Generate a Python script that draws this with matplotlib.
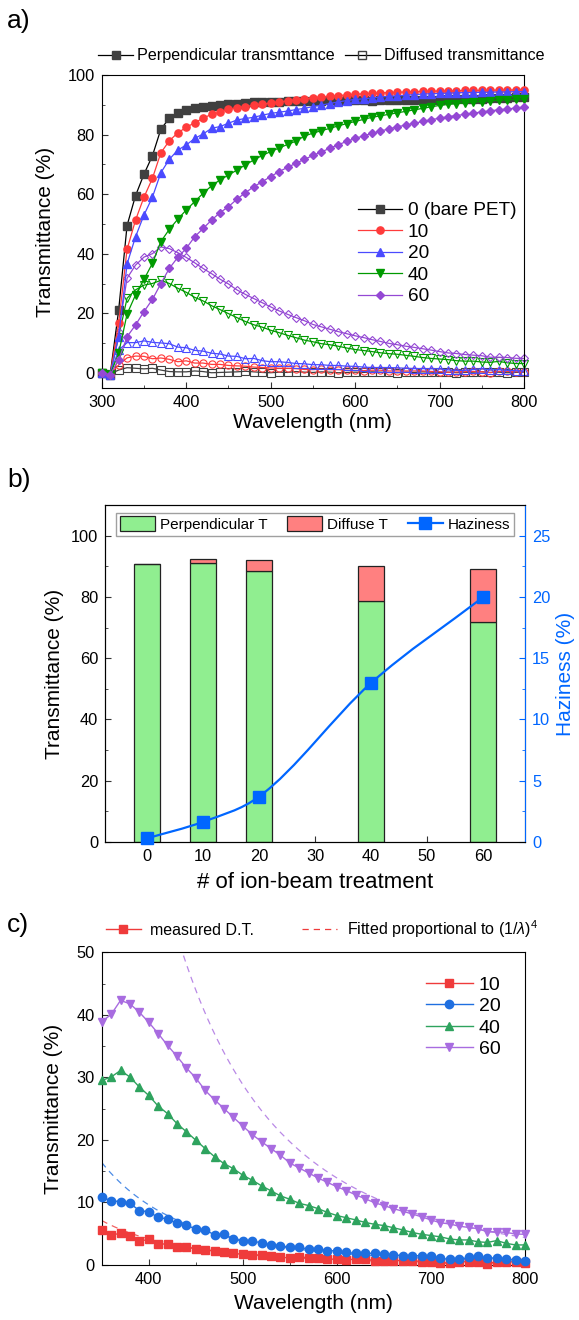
import numpy as np
import matplotlib.pyplot as plt
from matplotlib.path import Path
from matplotlib.patches import PathPatch
from matplotlib.lines import Line2D
from matplotlib.ticker import MultipleLocator

plt.rcParams['font.family'] = ['Liberation Sans', 'DejaVu Sans']
plt.rcParams['mathtext.fontset'] = 'custom'
plt.rcParams['mathtext.rm'] = 'Liberation Sans'
plt.rcParams['mathtext.it'] = 'Liberation Sans:italic'

# ---- data -------------------------------------------------------------
wl = np.arange(300, 801, 10)          # panel a wavelengths
wl_c = np.arange(350, 801, 10)        # panel c wavelengths

# perpendicular transmittance (panel a, filled markers)
perp_0 = [0, -0.5, 21, 49.5, 59.5, 66.7, 72.9, 81.8, 85.5, 87.1, 88.3, 89.0, 89.4, 89.7,
          89.9, 90.3, 90.4, 90.5, 90.8, 90.9, 91.0, 91.1, 91.2, 91.3, 91.4, 91.4, 91.4,
          91.5, 91.4, 91.5, 91.5, 91.5, 91.4, 91.5, 91.5, 91.6, 91.6, 91.6, 91.7, 91.7,
          91.7, 91.8, 91.9, 91.9, 92.0, 92.1, 92.2, 92.3, 92.4, 92.5, 92.6]
perp_10 = [0, -0.5, 16.7, 41.5, 51.3, 59.0, 65.3, 73.9, 77.9, 80.6, 82.4, 84.0, 85.5, 86.8,
           87.5, 88.5, 89.0, 89.4, 89.8, 90.2, 90.6, 91.0, 91.3, 91.7, 92.0, 92.3, 92.6,
           92.9, 93.1, 93.3, 93.5, 93.7, 93.8, 94.0, 94.1, 94.2, 94.3, 94.4, 94.5, 94.6,
           94.6, 94.7, 94.7, 94.8, 94.8, 94.8, 94.9, 94.9, 94.9, 95.0, 95.0]
perp_20 = [0, -0.5, 12, 36.6, 45.7, 53.0, 59.0, 67.2, 71.7, 74.8, 76.5, 78.7, 80.2, 82.1,
           82.7, 83.8, 84.9, 85.4, 85.8, 86.5, 87.1, 87.5, 87.9, 88.4, 88.8, 89.4, 89.9,
           90.4, 91.0, 91.4, 91.8, 92.0, 92.3, 92.6, 92.8, 93.0, 93.2, 93.4, 93.6, 93.7,
           93.8, 93.9, 94.0, 94.1, 94.1, 94.2, 94.2, 94.3, 94.3, 94.4, 94.4]
perp_40 = [0, -0.5, 6.6, 19.8, 26.2, 31.4, 36.8, 44.1, 48.2, 51.6, 54.7, 57.5, 60.3, 62.8,
           64.8, 66.4, 68.1, 69.8, 71.5, 73.0, 74.3, 75.5, 76.7, 77.8, 79.5, 80.5, 81.3,
           82.1, 82.9, 83.7, 84.4, 85.1, 85.8, 86.3, 86.8, 87.3, 87.8, 88.3, 88.8, 89.3,
           89.8, 90.1, 90.4, 90.7, 90.9, 91.1, 91.3, 91.5, 91.7, 91.8, 92.0]
perp_60 = [0, -0.5, 4.4, 12.2, 16.1, 20.6, 24.7, 30.0, 35.1, 38.8, 41.8, 45.7, 48.5, 51.3,
           53.8, 55.8, 58.3, 60.5, 62.5, 64.2, 65.9, 67.6, 69.0, 70.4, 71.7, 73.0, 74.2,
           75.4, 76.6, 77.7, 78.7, 79.6, 80.4, 81.2, 81.9, 82.6, 83.2, 83.8, 84.4, 85.0,
           85.5, 86.0, 86.4, 86.8, 87.2, 87.6, 88.0, 88.3, 88.6, 88.9, 89.2]

# diffuse transmittance 350-800 nm (panel c, also open markers in panel a)
c10 = [5.6, 4.8, 5.05, 4.6, 3.8, 4.1, 3.35, 3.35, 2.9, 2.9, 2.55, 2.4, 2.3, 2.0, 1.85, 1.7,
       1.6, 1.6, 1.5, 1.2, 1.15, 1.3, 1.15, 1.15, 0.95, 0.9, 0.8, 0.95, 0.95, 0.7, 0.7, 0.7,
       0.7, 0.7, 0.55, 0.45, 0.25, 0.35, 0.45, 0.55, 0.45, 0.15, 0.55, 0.55, 0.45, 0.35]
c20 = [10.8, 10.3, 10.1, 9.85, 8.7, 8.5, 7.6, 7.35, 6.65, 6.4, 5.7, 5.6, 4.8, 4.9, 4.15, 3.8,
       3.8, 3.55, 3.2, 3.1, 2.8, 2.8, 2.55, 2.55, 2.3, 2.25, 2.0, 1.85, 1.85, 1.85, 1.75, 1.6,
       1.5, 1.5, 1.45, 1.45, 1.05, 0.9, 0.9, 1.2, 1.45, 1.05, 1.15, 0.9, 0.8, 0.65]
c40 = [29.5, 30.05, 31.1, 30.05, 28.45, 27.1, 25.4, 24.2, 22.6, 21.3, 19.95, 18.6, 17.3, 16.2,
       15.4, 14.35, 13.55, 12.65, 11.85, 11.05, 10.5, 9.85, 9.5, 9.0, 8.4, 7.9, 7.55, 7.2,
       6.8, 6.5, 6.3, 5.95, 5.6, 5.2, 4.9, 4.7, 4.5, 4.15, 4.0, 4.0, 3.7, 3.6, 3.9, 3.45,
       3.2, 3.2]
c60 = [38.9, 40.05, 42.3, 41.75, 40.4, 38.8, 37.0, 35.1, 33.35, 31.5, 29.9, 27.9, 26.4, 25.0,
       23.6, 22.2, 20.85, 19.7, 18.6, 17.55, 16.3, 15.5, 14.7, 13.9, 13.2, 12.5, 11.9, 11.2,
       10.6, 9.95, 9.5, 9.0, 8.6, 8.15, 7.7, 7.2, 6.75, 6.55, 6.2, 6.0, 5.8, 5.3, 5.3, 5.2,
       4.95, 4.9]

# 300-340 nm part of the diffuse curves (panel a only)
head_10 = [0, -0.3, 2.7, 5.1, 5.7]
head_20 = [0, -0.3, 7.7, 10.2, 10.2]
head_40 = [0, -0.3, 12.2, 25.1, 27.9]
head_60 = [0, -0.3, 13.9, 31.8, 36.2]
diff_0 = [0, -0.3, 1.0, 1.8, 1.6, 1.4, 1.6, 1.0, 0.5, 0.4, 0.4, 0.7, 0.5, 0.1, 0.2, 0.3, 0.4,
          0.6, 0.4, 0.2, 0.1, 0.3, 0.2, 0.5, 0.3, 0.2, 0.4, 0.3, 0.1, 0.2, 0.3, 0.2, 0.4,
          0.3, 0.2, 0.1, 0.3, 0.2, 0.4, 0.3, 0.2, 0.3, 0.1, 0.2, 0.3, 0.4, 0.2, 0.3, 0.1,
          0.2, 0.3]

# fitted (1/lambda)^4 curves, value at 800 nm
fit_at_800 = {'10': 0.26, '20': 0.60, '60': 4.4}

# panel b
treat = [0, 10, 20, 40, 60]
perp_T = [90.8, 91.1, 88.6, 78.6, 71.8]
total_T = [90.8, 92.5, 92.1, 90.2, 89.2]
haze = [0.3, 1.65, 3.7, 12.97, 19.97]

labels_a = ['0 (bare PET)', '10', '20', '40', '60']
labels_c = ['10', '20', '40', '60']

# ---- figure -----------------------------------------------------------
TICK = 11.8
LAB = 15

fig = plt.figure(figsize=(5.79, 13.2), dpi=100)
axa = fig.add_axes([0.1757, 0.7061, 0.7294, 0.2371])
axb = fig.add_axes([0.1813, 0.3621, 0.7254, 0.2553])
axc = fig.add_axes([0.1757, 0.0417, 0.7311, 0.2369])

for ax in (axa, axb, axc):
    ax.tick_params(which='both', direction='in', labelsize=TICK, color='#333333', pad=5)
    ax.tick_params(which='major', length=4)
    ax.tick_params(which='minor', length=2.5)

fig.text(0.012, 0.984, 'a)', fontsize=19, va='center')
fig.text(0.012, 0.636, 'b)', fontsize=19, va='center')
fig.text(0.012, 0.299, 'c)', fontsize=19, va='center')

# ---- panel a ----------------------------------------------------------
cols_a = ['#404040', '#ff3b3b', '#4a4aff', '#009a00', '#9448d4']
marks_a = ['s', 'o', '^', 'v', 'D']
perps = [perp_0, perp_10, perp_20, perp_40, perp_60]
diffs = [diff_0, head_10 + c10, head_20 + c20, head_40 + c40, head_60 + c60]

for d, c, m in zip(diffs, cols_a, marks_a):
    ms = 4.5 if m == 'D' else 5.2
    axa.plot(wl, d, color=c, lw=0.9, marker=m, ms=ms, mfc='none', mec=c, mew=0.8,
             clip_on=False, zorder=2)
for p, c, m, lab in zip(perps, cols_a, marks_a, labels_a):
    ms = 4.5 if m == 'D' else 5.2
    line_c = 'black' if c == '#404040' else c
    axa.plot(wl, p, color=line_c, lw=0.9, marker=m, ms=ms, mfc=c, mec=c, label=lab,
             clip_on=False, zorder=3)

axa.set_xlim(300, 800)
axa.set_ylim(-5, 100)
axa.xaxis.set_major_locator(MultipleLocator(100))
axa.xaxis.set_minor_locator(MultipleLocator(50))
axa.yaxis.set_major_locator(MultipleLocator(20))
axa.yaxis.set_minor_locator(MultipleLocator(10))
axa.set_xlabel('Wavelength (nm)', fontsize=LAB, labelpad=2)
axa.set_ylabel('Transmittance (%)', fontsize=LAB, labelpad=9)

top_handles = [Line2D([], [], color='black', lw=0.9, marker='s', ms=5.2, mfc='#404040', mec='#404040'),
               Line2D([], [], color='black', lw=0.9, marker='s', ms=5.2, mfc='none', mec='#404040')]
leg_top = axa.legend(top_handles, ['Perpendicular transmttance', 'Diffused transmittance'],
                     loc='lower center', bbox_to_anchor=(0.52, 1.012), ncol=2, frameon=False,
                     fontsize=11.6, handlelength=2.2, handletextpad=0.25, columnspacing=0.6,
                     borderpad=0)
axa.legend(loc='upper left', bbox_to_anchor=(0.585, 0.625), frameon=False, fontsize=13.7,
           handlelength=2.3, handletextpad=0.3, labelspacing=0.22, borderpad=0)
axa.add_artist(leg_top)

# ---- panel b ----------------------------------------------------------
diffuse_T = [t - p for t, p in zip(total_T, perp_T)]
axb.bar(treat, perp_T, width=4.6, color='#90ee90', edgecolor='#222222', lw=0.9,
        label='Perpendicular T', zorder=2)
axb.bar(treat, diffuse_T, bottom=perp_T, width=4.6, color='#ff8080', edgecolor='#222222',
        lw=0.9, label='Diffuse T', zorder=2)
axb.set_xlim(-7.5, 67.5)
axb.set_ylim(0, 110)
axb.set_xticks(range(0, 61, 10))
axb.yaxis.set_major_locator(MultipleLocator(20))
axb.yaxis.set_minor_locator(MultipleLocator(10))
axb.set_xlabel('# of ion-beam treatment', fontsize=16, labelpad=6)
axb.set_ylabel('Transmittance (%)', fontsize=LAB, labelpad=5)

axb2 = axb.twinx()
hz_col = '#0066ff'
axb2.set_ylim(0, 27.5)
axb2.yaxis.set_major_locator(MultipleLocator(5))
axb2.yaxis.set_minor_locator(MultipleLocator(2.5))
axb2.tick_params(which='both', direction='in', labelsize=TICK, colors=hz_col, pad=5)
axb2.tick_params(which='major', length=4)
axb2.tick_params(which='minor', length=2.5)
axb2.spines['right'].set_color(hz_col)
axb2.set_ylabel('Haziness (%)', fontsize=LAB, color=hz_col, labelpad=4)

# smooth curve through the haziness points (cubic Bezier segments)
hx = np.array(treat, float)
hy = np.array(haze, float)
sl = np.diff(hy) / np.diff(hx)
tan = np.concatenate([[sl[0]], (sl[:-1] + sl[1:]) / 2, [sl[-1]]])
verts = [(hx[0], hy[0])]
codes = [Path.MOVETO]
for i in range(len(hx) - 1):
    h = hx[i + 1] - hx[i]
    verts += [(hx[i] + h / 3, hy[i] + tan[i] * h / 3),
              (hx[i + 1] - h / 3, hy[i + 1] - tan[i + 1] * h / 3),
              (hx[i + 1], hy[i + 1])]
    codes += [Path.CURVE4] * 3
axb2.add_patch(PathPatch(Path(verts, codes), fc='none', ec=hz_col, lw=1.6, zorder=3))
axb2.plot(treat, haze, ls='none', marker='s', ms=8.5, color=hz_col, zorder=4, clip_on=False)

hb, lb = axb.get_legend_handles_labels()
hb.append(Line2D([], [], color=hz_col, lw=1.6, marker='s', ms=8.5))
lb.append('Haziness')
axb2.legend(hb, lb, loc='upper center', ncol=3, fontsize=11, frameon=True, fancybox=False,
            edgecolor='#888888', handlelength=2.3, handleheight=1.1, handletextpad=0.3,
            columnspacing=1.3, borderpad=0.25, bbox_to_anchor=(0.5, 1.0))

# ---- panel c ----------------------------------------------------------
cols_c = ['#ef3b3b', '#1f6fe0', '#2ea35e', '#a86ce0']
marks_c = ['s', 'o', '^', 'v']
for d, c, m, lab in zip([c10, c20, c40, c60], cols_c, marks_c, labels_c):
    axc.plot(wl_c, d, color=c, lw=1.0, marker=m, ms=6, mec=c, label=lab, clip_on=False, zorder=3)

wl_fit = np.linspace(350, 800, 200)
for key, c in zip(['10', '20', '60'], [cols_c[0], cols_c[1], cols_c[3]]):
    axc.plot(wl_fit, fit_at_800[key] * (800.0 / wl_fit) ** 4, color=c, lw=0.9,
             ls=(0, (5, 4)), alpha=0.8, zorder=2)

axc.set_xlim(350, 800)
axc.set_ylim(0, 50)
axc.xaxis.set_major_locator(MultipleLocator(100))
axc.xaxis.set_minor_locator(MultipleLocator(50))
axc.yaxis.set_major_locator(MultipleLocator(10))
axc.yaxis.set_minor_locator(MultipleLocator(5))
axc.set_xlabel('Wavelength (nm)', fontsize=LAB, labelpad=5)
axc.set_ylabel('Transmittance (%)', fontsize=LAB, labelpad=10)
leg_c = axc.legend(loc='upper right', bbox_to_anchor=(0.965, 0.955), frameon=False, fontsize=14,
                   handlelength=2.4, handletextpad=0.3, labelspacing=0.2, borderpad=0)

top_c = [Line2D([], [], color=cols_c[0], lw=1.0, marker='s', ms=6),
         Line2D([], [], color=cols_c[0], lw=0.9, ls=(0, (5, 4)))]
axc.legend(top_c, ['measured D.T.', 'Fitted proportional to (1/$\\lambda$)$^4$'],
           loc='lower center', bbox_to_anchor=(0.52, 1.015), ncol=2, frameon=False,
           fontsize=11.5, handlelength=2.2, handletextpad=0.6, columnspacing=3.0, borderpad=0)
axc.add_artist(leg_c)

fig.savefig('out.png', dpi=100)
